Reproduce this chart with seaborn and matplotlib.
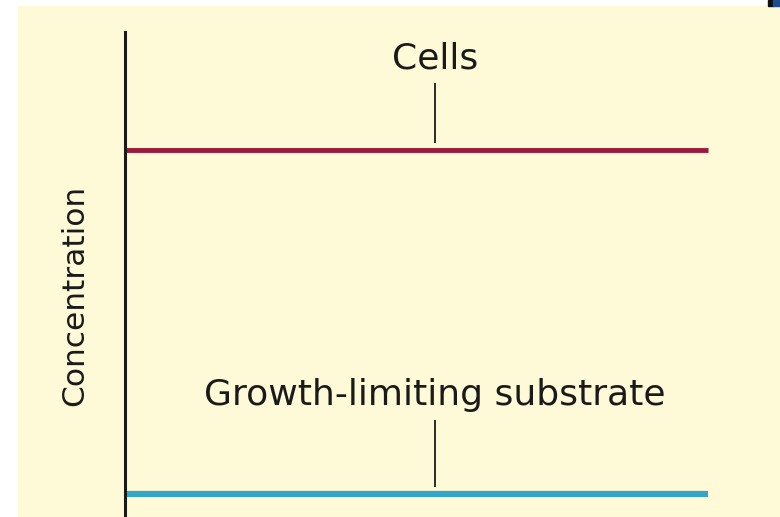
import matplotlib
matplotlib.use('Agg')
import matplotlib.pyplot as plt
from matplotlib.patches import Rectangle
import pandas as pd
import seaborn as sns

# values (arbitrary concentration units)
time = [0.0, 1.0]
cells = [0.757, 0.757]
substrate = [0.047, 0.047]
series_names = ['Cells', 'Growth-limiting substrate']
series_colors = ['#a0173c', '#35a6c8']

df = pd.DataFrame({
    'time': time * 2,
    'conc': cells + substrate,
    'series': [series_names[0]] * 2 + [series_names[1]] * 2,
})

sns.set_style('white')
plt.rcParams['font.family'] = ['DejaVu Sans']

W, H = 780, 517
fig = plt.figure(figsize=(7.8, 5.17), dpi=100, facecolor='white')

# cream panel behind everything
bg = fig.add_axes([18 / W, 0, 1 - 18 / W, 1 - 6 / H], zorder=-1)
bg.axis('off')
bg.add_patch(Rectangle((0, 0), 1, 1, transform=bg.transAxes, color='#fef9d6'))
# bit of the next element peeking in at the top right corner
fig.patches.append(Rectangle((768 / W, 1 - 6 / H), 5 / W, 6 / H,
                             transform=fig.transFigure, color='#111111'))
fig.patches.append(Rectangle((773 / W, 1 - 6 / H), 7 / W, 6 / H,
                             transform=fig.transFigure, color='#1f4e8c'))

ax = fig.add_axes([125 / W, 0, (708 - 125) / W, (517 - 32) / H])
ax.set_facecolor('none')

sns.lineplot(data=df, x='time', y='conc', hue='series', palette=series_colors,
             legend=False, ax=ax)
ax.lines[0].set_linewidth(3.5)
ax.lines[1].set_linewidth(4.5)
for ln in ax.lines:
    ln.set_solid_capstyle('butt')
    ln.set_clip_on(False)

ax.set_xlim(0, 1)
ax.set_ylim(0, 1)
for s in ['top', 'right', 'bottom']:
    ax.spines[s].set_visible(False)
ax.spines['left'].set_color('#1a1a1a')
ax.spines['left'].set_linewidth(2.2)
ax.set_xticks([])
ax.set_yticks([])
ax.set_xlabel('')
ax.set_ylabel('')

# callouts
lx = (435 - 125) / (708 - 125)
ax.text(lx, 0.946, series_names[0], ha='center', va='center', fontsize=26, color='#1a1a1a')
ax.vlines(lx, 0.771, 0.895, color='#1a1a1a', lw=1.3)
ax.text(lx, 0.2515, series_names[1], ha='center', va='center', fontsize=26, color='#1a1a1a')
ax.vlines(lx, 0.062, 0.2, color='#1a1a1a', lw=1.3)

fig.text(75 / W, 1 - 295 / H, 'Concentration', rotation=90, ha='center', va='center',
         fontsize=22.5, color='#1a1a1a')

fig.savefig('out.png', dpi=100, facecolor='white')
